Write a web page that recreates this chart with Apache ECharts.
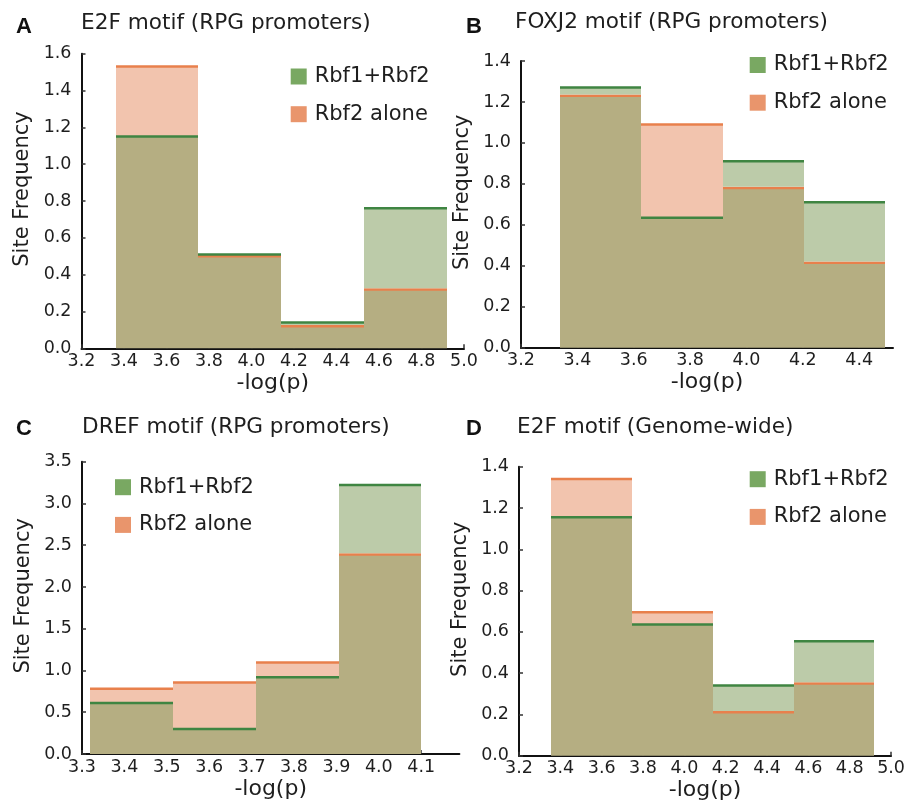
<!DOCTYPE html>
<html>
<head>
<meta charset="utf-8">
<script src="https://cdn.jsdelivr.net/npm/echarts@6/dist/echarts.min.js"></script>
<style>
  html, body { margin: 0; padding: 0; background: #fff; }
  #chart { width: 908px; height: 803px; }
</style>
</head>
<body>
<div id="chart"></div>
<script>
// bin edges on -log(p), and site frequency per bin
const edgesA = [3.36, 3.75, 4.14, 4.53, 4.92]
const bothA = [1.15, 0.51, 0.14, 0.76]
const aloneA = [1.53, 0.50, 0.12, 0.32]
const ticksA = [3.2, 3.4, 3.6, 3.8, 4.0, 4.2, 4.4, 4.6, 4.8, 5.0]

const edgesB = [3.337, 3.626, 3.915, 4.204, 4.493]
const bothB = [1.27, 0.635, 0.91, 0.71]
const aloneB = [1.23, 1.09, 0.78, 0.415]
const ticksB = [3.2, 3.4, 3.6, 3.8, 4.0, 4.2, 4.4]

const edgesC = [3.32, 3.515, 3.71, 3.905, 4.1]
const bothC = [0.61, 0.30, 0.92, 3.22]
const aloneC = [0.78, 0.855, 1.095, 2.39]
const ticksC = [3.3, 3.4, 3.5, 3.6, 3.7, 3.8, 3.9, 4.0, 4.1]

const edgesD = [3.355, 3.746, 4.137, 4.528, 4.919]
const bothD = [1.155, 0.635, 0.34, 0.555]
const aloneD = [1.34, 0.695, 0.21, 0.35]
const ticksD = [3.2, 3.4, 3.6, 3.8, 4.0, 4.2, 4.4, 4.6, 4.8, 5.0]

const titles = ['E2F motif (RPG promoters)', 'FOXJ2 motif (RPG promoters)', 'DREF motif (RPG promoters)', 'E2F motif (Genome-wide)']
const letters = ['A', 'B', 'C', 'D']

const GREEN = '#79a862'
const ORANGE = '#e9956c'
const GREEN_LINE = '#3f8542'
const ORANGE_LINE = '#e8804c'
const PALE_GREEN = '#bccba9'
const PALE_ORANGE = '#f2c4ae'
const OLIVE = '#b5ae82'
const TEXT = '#1e1e1e'
const LINE_W = 2.5

const panels = [
  { edges: edgesA, both: bothA, alone: aloneA, ticks: ticksA, xmin: 3.2, xmax: 5.0, ymax: 1.6, yint: 0.2,
    grid: { left: 81.5, top: 53.7, width: 382.5, height: 294.6 }, legend: { left: 290.7, top: 65.5 },
    letter: { left: 16, top: 16 }, title: { left: 81, top: 12 } },
  { edges: edgesB, both: bothB, alone: aloneB, ticks: ticksB, xmin: 3.2, xmax: 4.52, ymax: 1.4, yint: 0.2,
    grid: { left: 521, top: 61, width: 372, height: 286.7 }, legend: { left: 749.7, top: 54 },
    letter: { left: 466, top: 16 }, title: { left: 515, top: 11 } },
  { edges: edgesC, both: bothC, alone: aloneC, ticks: ticksC, xmin: 3.3, xmax: 4.19, ymax: 3.5, yint: 0.5,
    grid: { left: 82, top: 461.7, width: 377.4, height: 292.3 }, legend: { left: 115, top: 476.2 },
    letter: { left: 16, top: 418 }, title: { left: 82, top: 416 } },
  { edges: edgesD, both: bothD, alone: aloneD, ticks: ticksD, xmin: 3.2, xmax: 5.0, ymax: 1.4, yint: 0.2,
    grid: { left: 519, top: 466.7, width: 376.8, height: 289 }, legend: { left: 749.7, top: 468.2 },
    letter: { left: 466, top: 418 }, title: { left: 517, top: 416 } }
]

// each item: [x0, x1, own, other]
function binData(edges, own, other) {
  return own.map((v, i) => [edges[i], edges[i + 1], v, other[i]])
}

function box(api, x0, x1, yTop, yBottom, fill, trimBottom) {
  const a = api.coord([x0, yTop])
  const b = api.coord([x1, yBottom])
  const left = Math.round(a[0])
  const right = Math.round(b[0])
  return {
    type: 'rect',
    shape: { x: left, y: a[1], width: right - left, height: b[1] - a[1] - (trimBottom || 0) },
    style: { fill }
  }
}

// orange series owns the shared (olive) part, green series only its excess
function makeRender(isGreen) {
  return function (params, api) {
    const x0 = api.value(0)
    const x1 = api.value(1)
    const own = api.value(2)
    const other = api.value(3)
    const children = []
    if (!isGreen) {
      children.push(box(api, x0, x1, Math.min(own, other), 0, OLIVE))
    }
    if (own > other) {
      children.push(box(api, x0, x1, own, other, isGreen ? PALE_GREEN : PALE_ORANGE, isGreen ? LINE_W / 2 : 0))
    }
    const p = api.coord([x0, own])
    const q = api.coord([x1, own])
    children.push({
      type: 'line',
      shape: { x1: Math.round(p[0]), y1: p[1], x2: Math.round(q[0]), y2: q[1] },
      style: { stroke: isGreen ? GREEN_LINE : ORANGE_LINE, lineWidth: LINE_W }
    })
    return { type: 'group', children }
  }
}

const option = {
  animation: false,
  backgroundColor: '#fff',
  textStyle: { fontFamily: 'DejaVu Sans', color: TEXT },
  title: [],
  legend: [],
  grid: [],
  xAxis: [],
  yAxis: [],
  series: []
}

panels.forEach((p, i) => {
  option.title.push({
    text: letters[i], left: p.letter.left, top: p.letter.top, padding: 0,
    textStyle: { fontFamily: 'Liberation Sans', fontWeight: 'bold', fontSize: 22, color: '#111' }
  })
  option.title.push({
    text: titles[i], left: p.title.left, top: p.title.top, padding: 0,
    textStyle: { fontFamily: 'DejaVu Sans', fontWeight: 'normal', fontSize: 21.6, color: TEXT }
  })
  option.grid.push(p.grid)
  option.legend.push({
    left: p.legend.left, top: p.legend.top, orient: 'vertical', padding: 0,
    itemWidth: 16, itemHeight: 16, itemGap: 15.7, icon: 'rect', selectedMode: false,
    textStyle: { fontFamily: 'DejaVu Sans', fontSize: 21, color: TEXT, lineHeight: 22, padding: [0, 0, 0, 3] },
    data: ['Rbf1+Rbf2', 'Rbf2 alone']
  })
  option.xAxis.push({
    type: 'value', gridIndex: i, min: p.xmin, max: p.xmax,
    name: '-log(p)', nameLocation: 'middle', nameGap: 24,
    nameTextStyle: { fontFamily: 'DejaVu Sans', fontSize: 22, color: TEXT },
    axisLine: { lineStyle: { color: '#111', width: 2 } },
    axisTick: { inside: true, length: 4, customValues: p.ticks, lineStyle: { color: '#333', width: 1.5 } },
    axisLabel: { customValues: p.ticks, margin: 4, fontSize: 17.5, color: TEXT, formatter: (v) => v.toFixed(1) },
    splitLine: { show: false }
  })
  option.yAxis.push({
    type: 'value', gridIndex: i, min: 0, max: p.ymax, interval: p.yint,
    name: 'Site Frequency', nameLocation: 'middle', nameGap: 48,
    nameTextStyle: { fontFamily: 'DejaVu Sans', fontSize: 21, color: TEXT, padding: [0, 0, 0, 24] },
    axisLine: { show: true, lineStyle: { color: '#111', width: 2 } },
    axisTick: { show: true, inside: true, length: 4, lineStyle: { color: '#333', width: 1.5 } },
    axisLabel: { margin: 10, fontSize: 17.5, color: TEXT, formatter: (v) => v.toFixed(1) },
    splitLine: { show: false }
  })
  option.series.push({
    name: 'Rbf2 alone', type: 'custom', xAxisIndex: i, yAxisIndex: i, z: 2,
    itemStyle: { color: ORANGE },
    encode: { x: [0, 1], y: 2 },
    renderItem: makeRender(false),
    data: binData(p.edges, p.alone, p.both)
  })
  option.series.push({
    name: 'Rbf1+Rbf2', type: 'custom', xAxisIndex: i, yAxisIndex: i, z: 3,
    itemStyle: { color: GREEN },
    encode: { x: [0, 1], y: 2 },
    renderItem: makeRender(true),
    data: binData(p.edges, p.both, p.alone)
  })
})

const chart = echarts.init(document.getElementById('chart'))
chart.setOption(option)
</script>
</body>
</html>
